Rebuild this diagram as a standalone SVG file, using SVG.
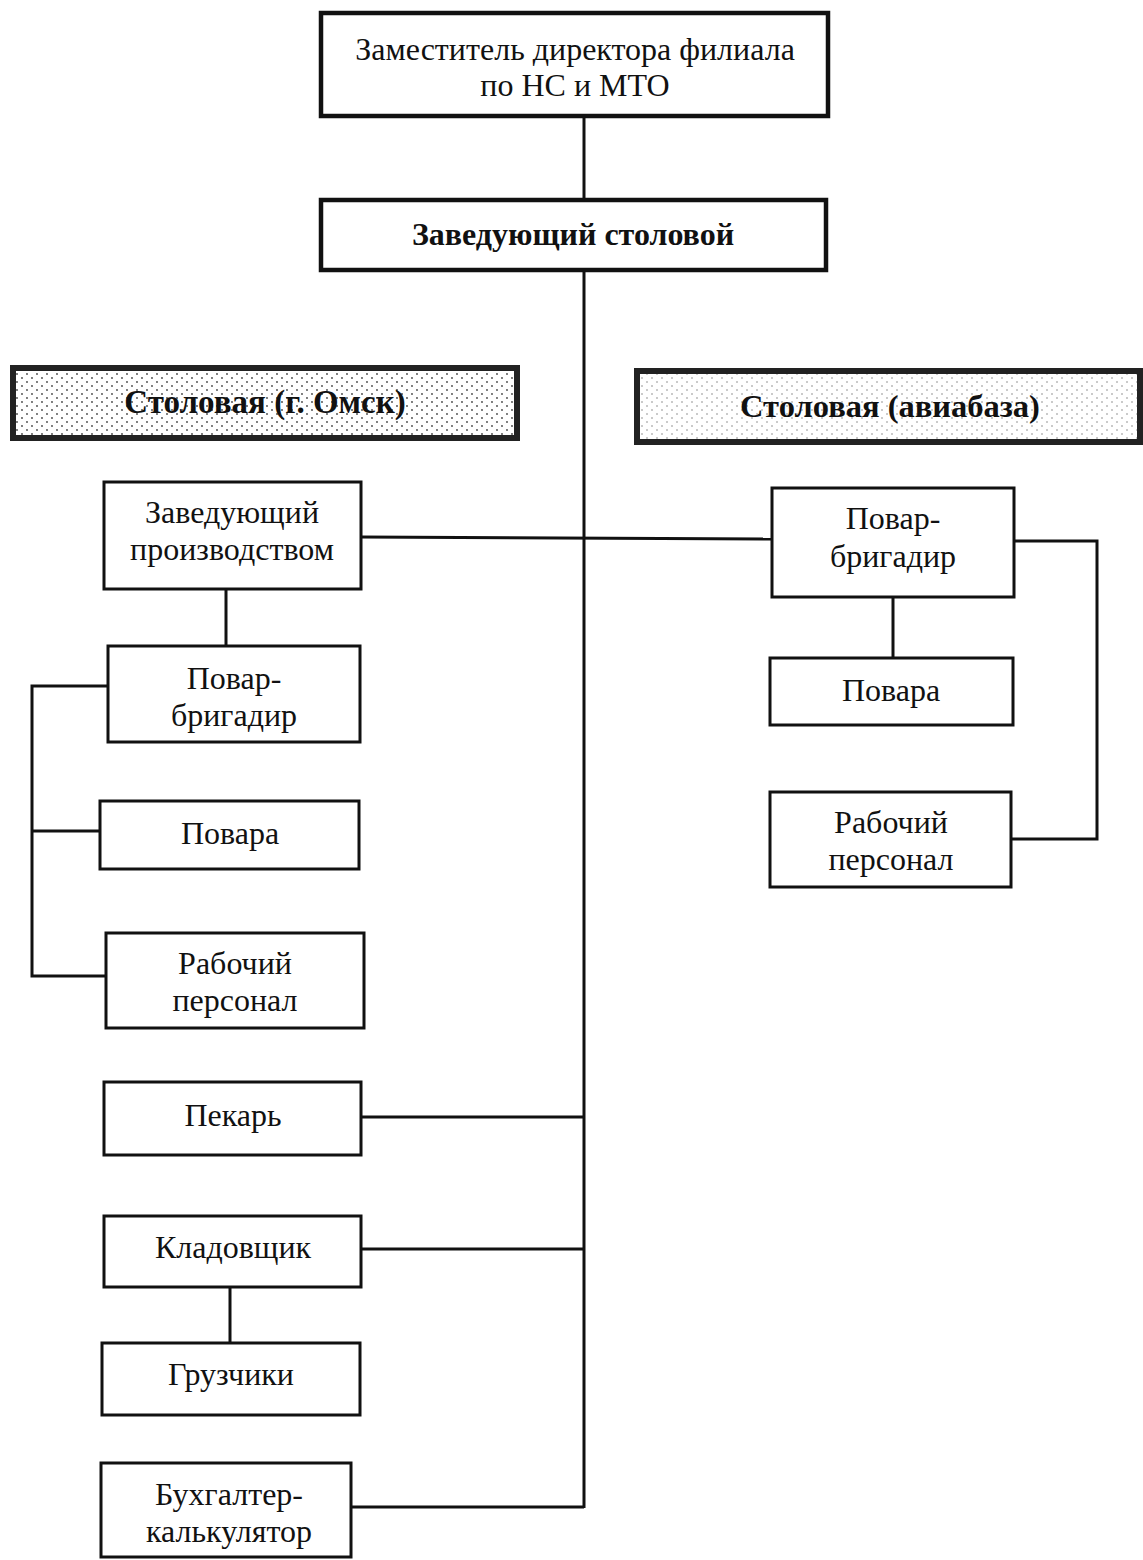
<svg xmlns="http://www.w3.org/2000/svg" width="1143" height="1560" viewBox="0 0 1143 1560">
<style>
.box{fill:#fff;stroke:#111;stroke-width:3}
.thick{fill:#fff;stroke:#111;stroke-width:4.5}
.t{font-family:"Liberation Serif","Times New Roman",serif;font-size:32px;fill:#111;text-anchor:middle}
.b{font-weight:bold}
.h{font-size:33px}
.c{fill:none;stroke:#111;stroke-width:3}
</style>
<defs>
<pattern id="dots1" width="10" height="8" patternUnits="userSpaceOnUse">
<rect width="10" height="8" fill="#fff"/>
<circle cx="2" cy="2" r="0.9" fill="#444"/>
<circle cx="7" cy="6" r="0.9" fill="#444"/>
</pattern>
<pattern id="dots2" width="10" height="8" patternUnits="userSpaceOnUse">
<rect width="10" height="8" fill="#fff"/>
<circle cx="2" cy="2" r="0.8" fill="#888"/>
<circle cx="7" cy="6" r="0.8" fill="#888"/>
</pattern>
</defs>
<rect width="1143" height="1560" fill="#fff"/>
<g id="connectors">
<line class="c" x1="584" y1="117" x2="584" y2="198"/>
<line class="c" x1="584" y1="270" x2="584" y2="1508"/>
<line class="c" x1="361" y1="537" x2="772" y2="539"/>
<polyline class="c" points="1014,541 1097,541 1097,839 1010,839"/>
<line class="c" x1="893" y1="597" x2="893" y2="657"/>
<line class="c" x1="226" y1="590" x2="226" y2="645"/>
<polyline class="c" points="108,686 32,686 32,976 106,976"/>
<line class="c" x1="32" y1="831" x2="100" y2="831"/>
<line class="c" x1="361" y1="1117" x2="584" y2="1117"/>
<line class="c" x1="361" y1="1249" x2="584" y2="1249"/>
<line class="c" x1="230" y1="1287" x2="230" y2="1342"/>
<line class="c" x1="351" y1="1507" x2="584" y2="1507"/>
</g>
<g id="n1">
<rect class="thick" x="321" y="13" width="507" height="103"/>
<text class="t" x="575" y="60">Заместитель директора филиала</text>
<text class="t" x="575" y="96">по НС и МТО</text>
</g>
<g id="n2">
<rect class="thick" x="321" y="200" width="505" height="70"/>
<text class="t b" x="573" y="245">Заведующий столовой</text>
</g>
<g id="n3">
<rect x="13" y="368" width="504" height="70" fill="url(#dots1)" stroke="#222" stroke-width="6"/>
<text class="t b h" x="265" y="413">Столовая (г. Омск)</text>
</g>
<g id="n4">
<rect x="637" y="371" width="503" height="71" fill="url(#dots2)" stroke="#222" stroke-width="6"/>
<text class="t b h" x="890" y="417" style="font-size:32.5px">Столовая (авиабаза)</text>
</g>
<g id="n5">
<rect class="box" x="104" y="482" width="257" height="107"/>
<text class="t" x="232" y="523">Заведующий</text>
<text class="t" x="232" y="560">производством</text>
</g>
<g id="n6">
<rect class="box" x="772" y="488" width="242" height="109"/>
<text class="t" x="893" y="529">Повар-</text>
<text class="t" x="893" y="567">бригадир</text>
</g>
<g id="n7">
<rect class="box" x="770" y="658" width="243" height="67"/>
<text class="t" x="891" y="701">Повара</text>
</g>
<g id="n8">
<rect class="box" x="770" y="792" width="241" height="95"/>
<text class="t" x="891" y="833">Рабочий</text>
<text class="t" x="891" y="870">персонал</text>
</g>
<g id="n9">
<rect class="box" x="108" y="646" width="252" height="96"/>
<text class="t" x="234" y="689">Повар-</text>
<text class="t" x="234" y="726">бригадир</text>
</g>
<g id="n10">
<rect class="box" x="100" y="801" width="259" height="68"/>
<text class="t" x="230" y="844">Повара</text>
</g>
<g id="n11">
<rect class="box" x="106" y="933" width="258" height="95"/>
<text class="t" x="235" y="974">Рабочий</text>
<text class="t" x="235" y="1011">персонал</text>
</g>
<g id="n12">
<rect class="box" x="104" y="1082" width="257" height="73"/>
<text class="t" x="233" y="1126">Пекарь</text>
</g>
<g id="n13">
<rect class="box" x="104" y="1216" width="257" height="71"/>
<text class="t" x="233" y="1258">Кладовщик</text>
</g>
<g id="n14">
<rect class="box" x="102" y="1343" width="258" height="72"/>
<text class="t" x="231" y="1385">Грузчики</text>
</g>
<g id="n15">
<rect class="box" x="101" y="1463" width="250" height="94"/>
<text class="t" x="229" y="1505">Бухгалтер-</text>
<text class="t" x="229" y="1542">калькулятор</text>
</g>
</svg>
